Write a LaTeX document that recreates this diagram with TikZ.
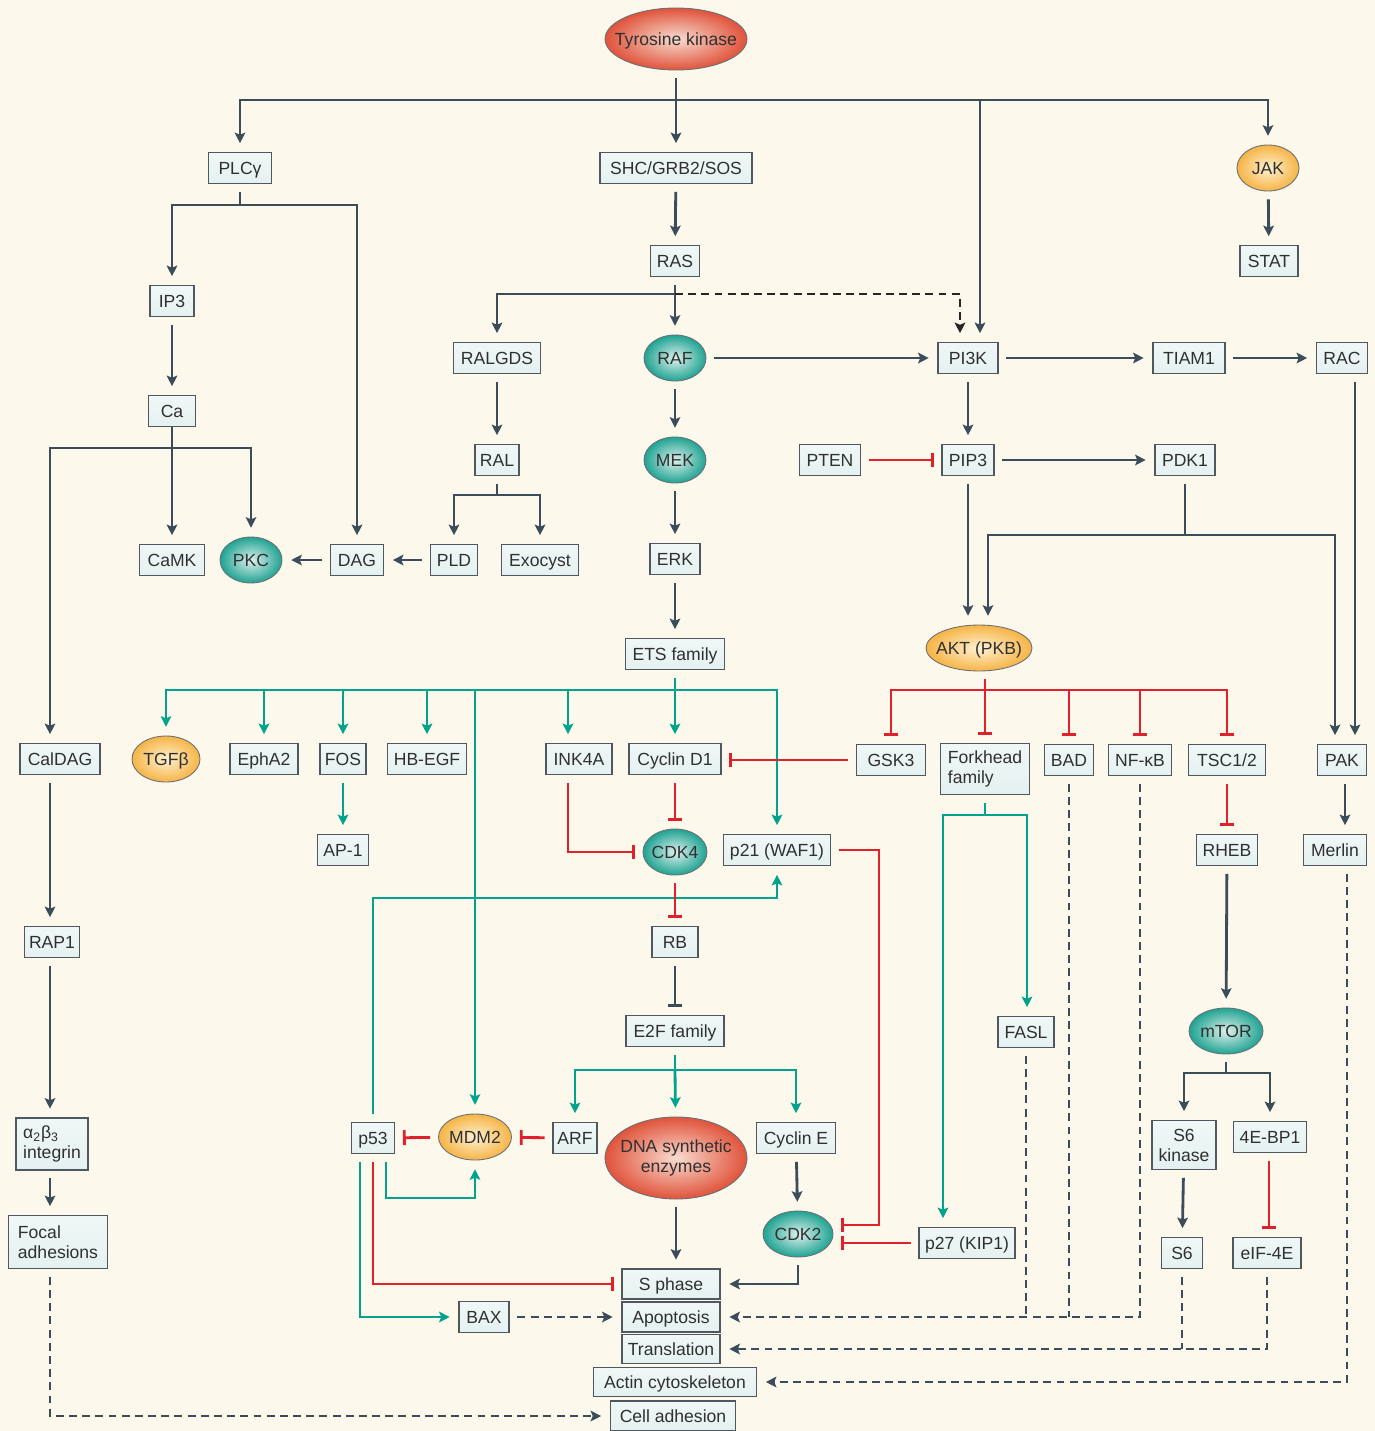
\documentclass[tikz,border=0pt]{standalone}
\usepackage{fontspec}
\setmainfont{Liberation Sans}
\usetikzlibrary{arrows.meta,calc,shapes.geometric}
\newdimen\pxu \pxu=0.02cm
\newcommand{\fs}{\fontsize{10pt}{11.4pt}\selectfont}
\newcommand{\ez}[1]{\makebox[0pt][c]{#1}}
\definecolor{bgc}{HTML}{FDF8EC}
\definecolor{slate}{HTML}{3B4D5A}
\definecolor{tlc}{HTML}{00A38C}
\definecolor{rdc}{HTML}{E0202A}
\definecolor{bxfill}{HTML}{E4F1F0}
\definecolor{bxline}{HTML}{4E585E}
\definecolor{txt}{HTML}{303030}
\definecolor{redout}{HTML}{E0533B}
\definecolor{redin}{HTML}{F8DCD0}
\definecolor{tealout}{HTML}{1FA392}
\definecolor{tealin}{HTML}{DDF0EC}
\definecolor{orout}{HTML}{F6B445}
\definecolor{orin}{HTML}{FEF1D2}
\begin{document}
\begin{tikzpicture}[x=0.02cm,y=-0.02cm,font=\fs,
  bx/.style={draw=bxline,line width=0.6pt,top color=bxfill!55!white,bottom color=bxfill,inner sep=0pt,minimum height=31\pxu,text=txt,align=center,text height=9.4pt,text depth=2.3pt},
  ml/.style={text height=,text depth=},
  ell/.style={ellipse,draw=bxline!85,line width=0.5pt,inner sep=0pt,minimum width=62\pxu,minimum height=46\pxu,text=txt,text height=9.4pt,text depth=2.3pt},
  rE/.style={ell,inner color=redin,outer color=redout},
  tE/.style={ell,inner color=tealin,outer color=tealout},
  oE/.style={ell,inner color=orin,outer color=orout},
  dk/.style={draw=slate,line width=1.6pt},
  tl/.style={draw=tlc,line width=1.6pt},
  rdl/.style={draw=rdc,line width=1.6pt},
  dsh/.style={draw=slate,line width=1.6pt,dash pattern=on 4.5pt off 3pt},
  dkd/.style={draw=black!85,line width=1.4pt,dash pattern=on 4.5pt off 3pt},
  arr/.style={-{Stealth[length=6pt,width=6pt,inset=1.2pt]},shorten >=5pt},
  tee/.style={-{Bar[width=8.5pt]},shorten >=4.5pt},
  sh/.style={shorten <=4.5pt}]
\fill[bgc] (0,0) rectangle (1375,1431);
\useasboundingbox (0,0) rectangle (1375,1431);

% ---------- nodes ----------
\node[rE,minimum width=142\pxu,minimum height=62\pxu] (tk) at (676,39) {\ez{Tyrosine kinase}};
\node[bx,minimum width=63\pxu] (plc) at (240,168) {PLCγ};
\node[bx,minimum width=152\pxu] (shc) at (676,168) {SHC/GRB2/SOS};
\node[oE] (jak) at (1268,168) {\ez{JAK}};
\node[bx,minimum width=58\pxu] (stat) at (1269,261) {STAT};
\node[bx,minimum width=49\pxu] (ras) at (675,261) {RAS};
\node[bx,minimum width=44\pxu] (ip3) at (172,301) {IP3};
\node[bx,minimum width=87\pxu] (ralgds) at (497,358) {RALGDS};
\node[tE] (raf) at (675,358) {\ez{RAF}};
\node[bx,minimum width=60\pxu] (pi3k) at (968,358) {PI3K};
\node[bx,minimum width=72\pxu] (tiam) at (1189,358) {TIAM1};
\node[bx,minimum width=51\pxu] (rac) at (1342,358) {RAC};
\node[bx,minimum width=47\pxu] (ca) at (172,411) {Ca};
\node[bx,minimum width=44\pxu] (ral) at (497,460) {RAL};
\node[tE] (mek) at (675,460) {\ez{MEK}};
\node[bx,minimum width=61\pxu] (pten) at (830,460) {PTEN};
\node[bx,minimum width=52\pxu] (pip3) at (968,460) {PIP3};
\node[bx,minimum width=60\pxu] (pdk1) at (1185,460) {PDK1};
\node[bx,minimum width=65\pxu] (camk) at (172,560) {CaMK};
\node[tE] (pkc) at (251,560) {\ez{PKC}};
\node[bx,minimum width=53\pxu] (dag) at (357,560) {DAG};
\node[bx,minimum width=47\pxu] (pld) at (454,560) {PLD};
\node[bx,minimum width=77\pxu] (exo) at (540,560) {Exocyst};
\node[bx,minimum width=50\pxu] (erk) at (675,559) {ERK};
\node[bx,minimum width=99\pxu] (ets) at (675,654) {ETS family};
\node[oE,minimum width=106\pxu] (akt) at (979,648) {\ez{AKT (PKB)}};

\node[bx,minimum width=80\pxu] (caldag) at (60,759) {CalDAG};
\node[oE,minimum width=68\pxu] (tgfb) at (166,759) {\ez{TGFβ}};
\node[bx,minimum width=68\pxu] (epha2) at (264,759) {EphA2};
\node[bx,minimum width=46\pxu] (fos) at (343,759) {FOS};
\node[bx,minimum width=79\pxu] (hbegf) at (427,759) {HB-EGF};
\node[bx,minimum width=66\pxu] (ink4a) at (579,759) {INK4A};
\node[bx,minimum width=92\pxu] (cycd1) at (675,759) {Cyclin D1};
\node[bx,minimum width=69\pxu] (gsk3) at (891,760) {GSK3};
\node[bx,ml,minimum width=89\pxu,minimum height=51\pxu,align=left] (fk) at (985,769) {Forkhead\\family};
\node[bx,minimum width=49\pxu] (bad) at (1069,760) {BAD};
\node[bx,minimum width=63\pxu] (nfkb) at (1140,760) {NF-κB};
\node[bx,minimum width=77\pxu] (tsc) at (1227,760) {TSC1/2};
\node[bx,minimum width=49\pxu] (pak) at (1342,760) {PAK};

\node[bx,minimum width=51\pxu] (ap1) at (343,850) {AP-1};
\node[tE,minimum width=64\pxu] (cdk4) at (675,852) {\ez{CDK4}};
\node[bx,minimum width=107\pxu] (p21) at (777,850) {p21 (WAF1)};
\node[bx,minimum width=61\pxu] (rheb) at (1227,850) {RHEB};
\node[bx,minimum width=63\pxu] (merlin) at (1335,850) {Merlin};

\node[bx,minimum width=55\pxu] (rap1) at (52,942) {RAP1};
\node[bx,minimum width=46\pxu] (rb) at (675,942) {RB};
\node[bx,minimum width=98\pxu] (e2f) at (675,1031) {E2F family};
\node[bx,minimum width=56\pxu] (fasl) at (1026,1032) {FASL};
\node[tE,minimum width=74\pxu] (mtor) at (1226,1031) {\ez{mTOR}};

\node[bx,ml,minimum width=72\pxu,minimum height=52\pxu,align=left] (a2b3) at (52,1144) {α\textsubscript{2}β\textsubscript{3}\\integrin};
\node[bx,minimum width=43\pxu] (p53) at (373,1138) {p53};
\node[oE,minimum width=73\pxu] (mdm2) at (475,1137) {\ez{MDM2}};
\node[bx,minimum width=44\pxu] (arf) at (575,1138) {ARF};
\node[rE,ml,minimum width=142\pxu,minimum height=82\pxu] (dna) at (676,1158) {\ez{\begin{tabular}{@{}c@{}}DNA synthetic\\enzymes\end{tabular}}};
\node[bx,minimum width=79\pxu] (cyce) at (796,1138) {Cyclin E};
\node[bx,ml,minimum width=64\pxu,minimum height=49\pxu] (s6k) at (1184,1145) {S6\\kinase};
\node[bx,minimum width=73\pxu] (ebp) at (1270,1137) {4E-BP1};

\node[bx,ml,minimum width=99\pxu,minimum height=53\pxu,align=left] (focal) at (58,1242) {Focal\\adhesions};
\node[tE,minimum width=70\pxu] (cdk2) at (798,1234) {\ez{CDK2}};
\node[bx,minimum width=96\pxu] (p27) at (967,1243) {p27 (KIP1)};
\node[bx,minimum width=41\pxu] (s6) at (1182,1253) {S6};
\node[bx,minimum width=68\pxu] (eif) at (1267,1253) {eIF-4E};

\node[bx,minimum width=98\pxu,minimum height=30\pxu] (sphase) at (671,1284) {S phase};
\node[bx,minimum width=50\pxu] (bax) at (484,1317) {BAX};
\node[bx,minimum width=98\pxu,minimum height=30\pxu] (apop) at (671,1317) {Apoptosis};
\node[bx,minimum width=98\pxu,minimum height=29\pxu] (trans) at (671,1349) {Translation};
\node[bx,minimum width=163\pxu,minimum height=29\pxu] (actin) at (675,1382) {Actin cytoskeleton};
\node[bx,minimum width=125\pxu,minimum height=30\pxu] (cadh) at (673,1416) {Cell adhesion};

% ---------- dark connectors ----------
\coordinate (j0) at (676,100);
\draw[dk,sh] (tk) -- (j0);
\draw[dk,arr] (j0) -- (shc);
\draw[dk,arr] (j0) -| (plc);
\draw[dk,arr] (j0) -| (jak);
\coordinate (jpi) at (980,100);
\draw[dk,arr] (jpi) -- (jpi |- pi3k.north);
\draw[dk,arr,sh] (jak) -- (stat);
\draw[dk,arr,sh] (shc) -- (ras);
\coordinate (jras) at (675,294);
\draw[dk,sh] (ras) -- (jras);
\draw[dk,arr] (jras) -- (raf);
\draw[dk,arr] (jras) -| (ralgds);
\draw[dkd,arr] (jras) -| ($(pi3k.north)+(-8,0)$);
\draw[dk,arr,sh] (raf) -- (pi3k);
\draw[dk,arr,sh] (pi3k) -- (tiam);
\draw[dk,arr,sh] (tiam) -- (rac);
\draw[dk,arr,sh] (pi3k) -- (pip3);
\draw[dk,arr,sh] (pip3) -- (pdk1);
\draw[dk,arr,sh] (pip3) -- (pip3 |- akt.north);
\coordinate (jpdk) at (1185,535);
\draw[dk,sh] (pdk1) -- (jpdk);
\draw[dk,arr] (jpdk) -| ($(akt.north)+(9,0)$);
\draw[dk,arr] (jpdk) -| ($(pak.north)+(-7,0)$);
\draw[dk,arr,sh] ($(rac.south)+(13,0)$) -- ($(pak.north)+(13,0)$);
\draw[dk,arr,sh] ($(pak.south)+(3,0)$) -- ($(merlin.north)+(10,0)$);

\coordinate (jplc) at (240,205);
\draw[dk,sh] (plc) -- (jplc);
\draw[dk,arr] (jplc) -| (ip3);
\draw[dk,arr] (jplc) -| (dag);
\draw[dk,arr,sh] (ip3) -- (ca);
\draw[dk,arr] (ca) -- (camk);
\coordinate (jca) at (172,448);
\draw[dk,arr] (jca) -| ($(caldag.north)+(-10,0)$);
\draw[dk,arr] (jca) -| (pkc);
\draw[dk,arr,sh] (dag) -- (pkc);
\draw[dk,arr,sh] (pld) -- (dag);
\draw[dk,arr,sh] (ralgds) -- (ral);
\coordinate (jral) at (497,495);
\draw[dk,sh] (ral) -- (jral);
\draw[dk,arr] (jral) -| (pld);
\draw[dk,arr] (jral) -| (exo);
\draw[dk,arr,sh] (raf) -- (mek);
\draw[dk,arr,sh] (mek) -- (erk);
\draw[dk,arr,sh] (erk) -- (ets);
\draw[dk,arr,sh] ($(caldag.south)+(-10,0)$) -- ($(rap1.north)+(-2,0)$);
\draw[dk,arr,sh] ($(rap1.south)+(-2,0)$) -- ($(a2b3.north)+(-2,0)$);
\draw[dk,arr,sh] ($(a2b3.south)+(-2,0)$) -- ($(focal.north)+(-8,0)$);

\draw[dk,tee,sh] (rb) -- (e2f);
\draw[dk,arr,sh] (cyce) -- (cdk2);
\draw[dk,arr,sh] (cdk2) |- (sphase);
\draw[dk,arr,sh] (dna) -- (dna |- sphase.north);
\draw[dk,arr,sh] (rheb) -- (mtor);
\coordinate (jmt) at (1226,1073);
\draw[dk,sh] (mtor) -- (jmt);
\draw[dk,arr] (jmt) -| (s6k);
\draw[dk,arr] (jmt) -| (ebp);
\draw[dk,arr,sh] (s6k) -- (s6);

% ---------- teal connectors ----------
\coordinate (jets) at (675,690);
\draw[tl,sh] (ets) -- (jets);
\draw[tl,arr] (jets) -| (tgfb);
\draw[tl,arr] (jets) -| (epha2);
\draw[tl,arr] (jets) -| (fos);
\draw[tl,arr] (jets) -| (hbegf);
\draw[tl,arr] (jets) -| ($(ink4a.north)+(-11,0)$);
\draw[tl,arr] (jets) -- (cycd1);
\draw[tl,arr] (jets) -| (p21);
\draw[tl,arr] (jets) -| (mdm2);
\draw[tl,arr,sh] (fos) -- (ap1);
\coordinate (jp53) at (373,898);
\draw[tl,arr,sh] (p53) -- (jp53) -| (p21);
\draw[tl,arr,sh] ($(p53.south)+(-13,0)$) |- (bax);
\coordinate (jmd) at (386,1198);
\draw[tl,arr,sh] (p53.south -| jmd) -- (jmd) -| (mdm2);
\coordinate (je2f) at (675,1070);
\draw[tl,sh] (e2f) -- (je2f);
\draw[tl,arr] (je2f) -| (arf);
\draw[tl,arr] (je2f) -- (dna);
\draw[tl,arr] (je2f) -| (cyce);
\coordinate (jfk) at (985,815);
\draw[tl,sh] (fk) -- (jfk);
\draw[tl,arr] (jfk) -| ($(fasl.north)+(1,0)$);
\draw[tl,arr] (jfk) -| ($(p27.north)+(-24,0)$);

% ---------- red inhibitions ----------
\draw[rdl,tee,sh] (pten) -- (pip3);
\draw[rdl,tee,sh] (cycd1) -- (cdk4);
\draw[rdl,tee,sh] ($(ink4a.south)+(-11,0)$) |- (cdk4);
\draw[rdl,tee,sh] (cdk4) -- (rb);
\draw[rdl,tee,sh] (gsk3) -- (gsk3 -| cycd1.east);
\coordinate (jakt) at (985,690);
\draw[rdl,sh] (jakt |- akt.south) -- (jakt);
\draw[rdl,tee] (jakt) -| (gsk3);
\draw[rdl,tee] (jakt) -- (fk);
\draw[rdl,tee] (jakt) -| (bad);
\draw[rdl,tee] (jakt) -| (nfkb);
\draw[rdl,tee] (jakt) -| (tsc);
\draw[rdl,tee,sh] (tsc) -- (rheb);
\draw[rdl,tee,sh] ($(ebp.south)+(-1,0)$) -- ($(eif.north)+(2,0)$);
\coordinate (jp21) at (879,850);
\draw[rdl,tee,sh] (p21) -- (jp21) |- ($(cdk2.east)+(0,-9)$);
\draw[rdl,tee,sh] (p27) -- ($(cdk2.east)+(0,9)$);
\draw[rdl,tee,sh] (mdm2) -- (p53);
\draw[rdl,tee,sh] (arf) -- (mdm2);
\draw[rdl,tee,sh] (p53) |- (sphase);

% ---------- dashed ----------
\draw[dsh,arr,sh] ($(focal.south)+(-8,0)$) |- (cadh);
\draw[dsh,arr,sh] (bax) -- (apop);
\draw[dsh,sh] (fasl) -- (fasl |- apop);
\draw[dsh,sh] (bad) -- (bad |- apop);
\draw[dsh,arr,sh] (nfkb) |- (apop);
\draw[dsh,sh] (s6) -- (s6 |- trans);
\draw[dsh,arr,sh] (eif) |- (trans);
\draw[dsh,arr,sh] ($(merlin.south)+(12,0)$) |- (actin);
\end{tikzpicture}
\end{document}
